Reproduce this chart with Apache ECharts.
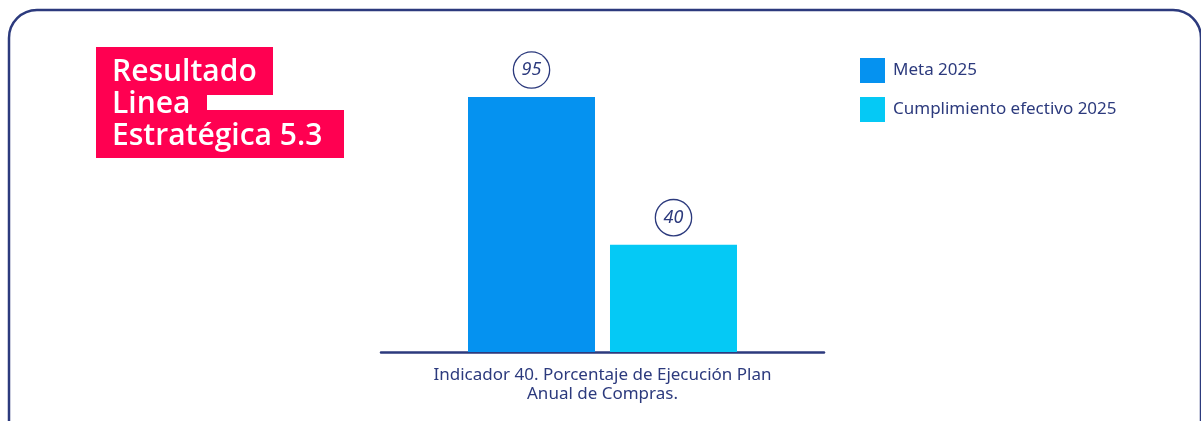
<!DOCTYPE html>
<html><head><meta charset="utf-8">
<script src="https://cdn.jsdelivr.net/npm/echarts@6/dist/echarts.min.js"></script>
<style>html,body{margin:0;padding:0;background:#fff}#c{width:1201px;height:421px}</style>
</head><body><div id="c"></div>
<script>
const categories = ['Indicador 40. Porcentaje de Ejecución Plan\nAnual de Compras.'];
const seriesNames = ['Meta 2025', 'Cumplimiento efectivo 2025'];
const metaValues = [95];
const cumplimientoValues = [40];
const titleLines = ['Resultado', 'Linea', 'Estratégica 5.3'];

const navy = '#2c3a7d';
const FONT = 'Noto Sans';
const chart = echarts.init(document.getElementById('c'));
const labelStyle = {
  show: true, position: 'top', distance: 27,
  fontFamily: FONT, fontStyle: 'italic', fontSize: 18, color: navy,
  width: 35, height: 35, lineHeight: 35, align: 'center', verticalAlign: 'middle',
  backgroundColor: '#fff', borderColor: navy, borderWidth: 1.3, borderRadius: 18, padding: 0
};
chart.setOption({
  animation: false,
  textStyle: { fontFamily: FONT },
  graphic: [
    { type: 'rect', shape: { x: 9, y: 10, width: 1192, height: 440, r: 28 },
      style: { fill: 'none', stroke: navy, lineWidth: 2.5 }, z: 0 },
    { type: 'rect', shape: { x: 96, y: 47, width: 177, height: 48 }, style: { fill: '#ff0051' }, z: 1 },
    { type: 'rect', shape: { x: 96, y: 80, width: 111, height: 40 }, style: { fill: '#ff0051' }, z: 1 },
    { type: 'rect', shape: { x: 96, y: 110, width: 248, height: 48 }, style: { fill: '#ff0051' }, z: 1 },
    { type: 'text', left: 112, top: 56, z: 2,
      style: { text: titleLines.join('\n'), fill: '#fff', font: '600 30px "Open Sans"', lineHeight: 32 } }
  ],
  legend: {
    orient: 'vertical', left: 860, top: 58, itemWidth: 25, itemHeight: 25, itemGap: 14,
    icon: 'rect', padding: 0,
    textStyle: { fontFamily: FONT, fontSize: 17, color: navy, padding: [0, 0, 0, 3] },
    data: seriesNames
  },
  grid: { left: 381, width: 443, top: 83.6, bottom: 421 - 352, containLabel: false },
  xAxis: {
    type: 'category', data: categories,
    axisLine: { lineStyle: { color: navy, width: 2.5 } },
    axisTick: { show: false },
    axisLabel: { fontFamily: FONT, fontSize: 17, color: navy, lineHeight: 19, margin: 14 }
  },
  yAxis: { type: 'value', min: 0, max: 100, show: false, splitLine: { show: false } },
  series: [
    { name: seriesNames[0], type: 'bar', data: metaValues, barWidth: 127, barGap: '11.8%',
      itemStyle: { color: '#0592f0' }, label: labelStyle },
    { name: seriesNames[1], type: 'bar', data: cumplimientoValues, barWidth: 127,
      itemStyle: { color: '#05c9f5' }, label: labelStyle }
  ]
});
</script></body></html>
